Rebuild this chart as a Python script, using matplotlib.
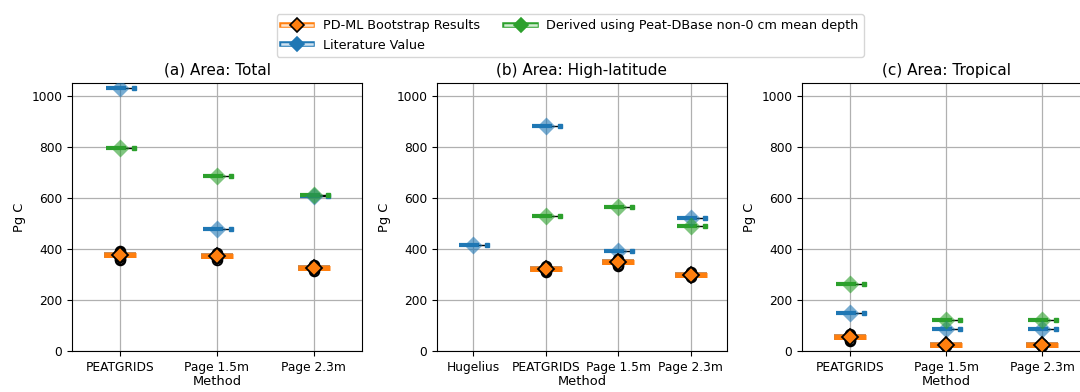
import matplotlib
matplotlib.use('Agg')
import matplotlib.pyplot as plt
from matplotlib.lines import Line2D
from matplotlib.legend_handler import HandlerTuple
import matplotlib.patheffects as pe

# panel categories
cats_total = ['PEATGRIDS', 'Page 1.5m', 'Page 2.3m']
cats_high = ['Hugelius', 'PEATGRIDS', 'Page 1.5m', 'Page 2.3m']
cats_trop = ['PEATGRIDS', 'Page 1.5m', 'Page 2.3m']

# PD-ML bootstrap means and outlying bootstrap samples (Pg C)
pdml_total = [378, 372, 326]
pdml_total_out = [[355, 362, 368, 386, 391], [358, 364, 380, 385], [314, 320, 333, 337]]
pdml_high = [None, 321, 348, 299]
pdml_high_out = [[], [308, 314, 330, 334], [333, 338, 356, 360], [290, 295, 306, 309]]
pdml_trop = [55, 24, 24]
pdml_trop_out = [[40, 45, 62, 66], [20, 28], [20, 28]]

# literature values (Pg C)
lit_total = [1030, 478, 606]
lit_high = [414, 881, 392, 522]
lit_trop = [148, 86, 86]

# derived using Peat-DBase non-0 cm mean depth (Pg C)
der_total = [797, 687, 613]
der_high = [None, 529, 563, 489]
der_trop = [264, 122, 122]

BLUE, ORANGE, GREEN = '#1f77b4', '#ff7f0e', '#2ca02c'
FS = 8.8

fig = plt.figure(figsize=(10.8, 3.92), dpi=100)
FIG_W = 1080

def px(ax, n):
    # data units per pixel along x
    return n / (ax.get_position().width * FIG_W)

def single(ax, x, y, c, k):
    ax.plot([x - 14 * k, x + 6 * k], [y, y], color=c, lw=3, solid_capstyle='butt', zorder=3)
    ax.plot([x + 6 * k, x + 13 * k], [y, y], color='k', lw=1, zorder=3)
    ax.plot(x + 14 * k, y, marker='s', ms=3, color=c, zorder=3)
    ax.plot(x, y, marker='D', ms=9, color=c, alpha=0.6, mec='none', zorder=4)

def boot(ax, x, y, out, k):
    ax.plot([x - 16 * k, x + 16 * k], [y, y], color=ORANGE, lw=3.6, solid_capstyle='butt', zorder=5,
            path_effects=[pe.Stroke(linewidth=4.2, foreground='#c8844a'), pe.Normal()])
    ax.plot([x] * len(out), out, ls='none', marker='o', ms=7, mfc='none', mec='k', mew=1.3, zorder=6)
    ax.plot(x, y, marker='D', ms=8, mfc=ORANGE, mec='k', mew=1.3, zorder=7)

panels = [
    ([72, 290], '(a) Area: Total', cats_total, pdml_total, pdml_total_out, lit_total, der_total),
    ([437, 290], '(b) Area: High-latitude', cats_high, pdml_high, pdml_high_out, lit_high, der_high),
    ([802, 288], '(c) Area: Tropical', cats_trop, pdml_trop, pdml_trop_out, lit_trop, der_trop),
]

for (left, width), title, cats, pm, po, lit, der in panels:
    ax = fig.add_axes([left / FIG_W, 41 / 392, width / FIG_W, 268 / 392])
    n = len(cats)
    ax.set_xlim(-0.5, n - 0.5)
    ax.set_ylim(0, 1050)
    k = px(ax, n)
    for i in range(n):
        if lit[i] is not None:
            single(ax, i, lit[i], BLUE, k)
        if der[i] is not None:
            single(ax, i, der[i], GREEN, k)
        if pm[i] is not None:
            boot(ax, i, pm[i], po[i], k)
    ax.set_xticks(range(n))
    ax.set_xticklabels(cats)
    ax.set_yticks([0, 200, 400, 600, 800, 1000])
    ax.grid(True, color='#b0b0b0', lw=0.9)
    ax.set_axisbelow(True)
    ax.set_title(title, fontsize=11)
    ax.set_xlabel('Method', labelpad=1, fontsize=9.4)
    ax.set_ylabel('Pg C', fontsize=9.4)
    ax.tick_params(labelsize=FS)

def handle(c, pale, edge):
    return (Line2D([], [], color=c, lw=4),
            Line2D([], [], color=pale, lw=1.8),
            Line2D([], [], ls='none', marker='D', ms=7, mfc=c, mec=edge, mew=1.2))

handles = [handle(ORANGE, '#ffe2c8', 'k'), handle(BLUE, '#cfe2f1', BLUE), handle(GREEN, '#d2ecd2', GREEN)]
labels = ['PD-ML Bootstrap Results', 'Literature Value', 'Derived using Peat-DBase non-0 cm mean depth']
fig.legend(handles, labels, handler_map={tuple: HandlerTuple(ndivide=1, pad=0)},
           loc='upper center', bbox_to_anchor=(0.528, 0.964), ncol=2, fontsize=9.2,
           handlelength=2.4, columnspacing=2.0, borderaxespad=0)

fig.savefig('out.png', dpi=100)
